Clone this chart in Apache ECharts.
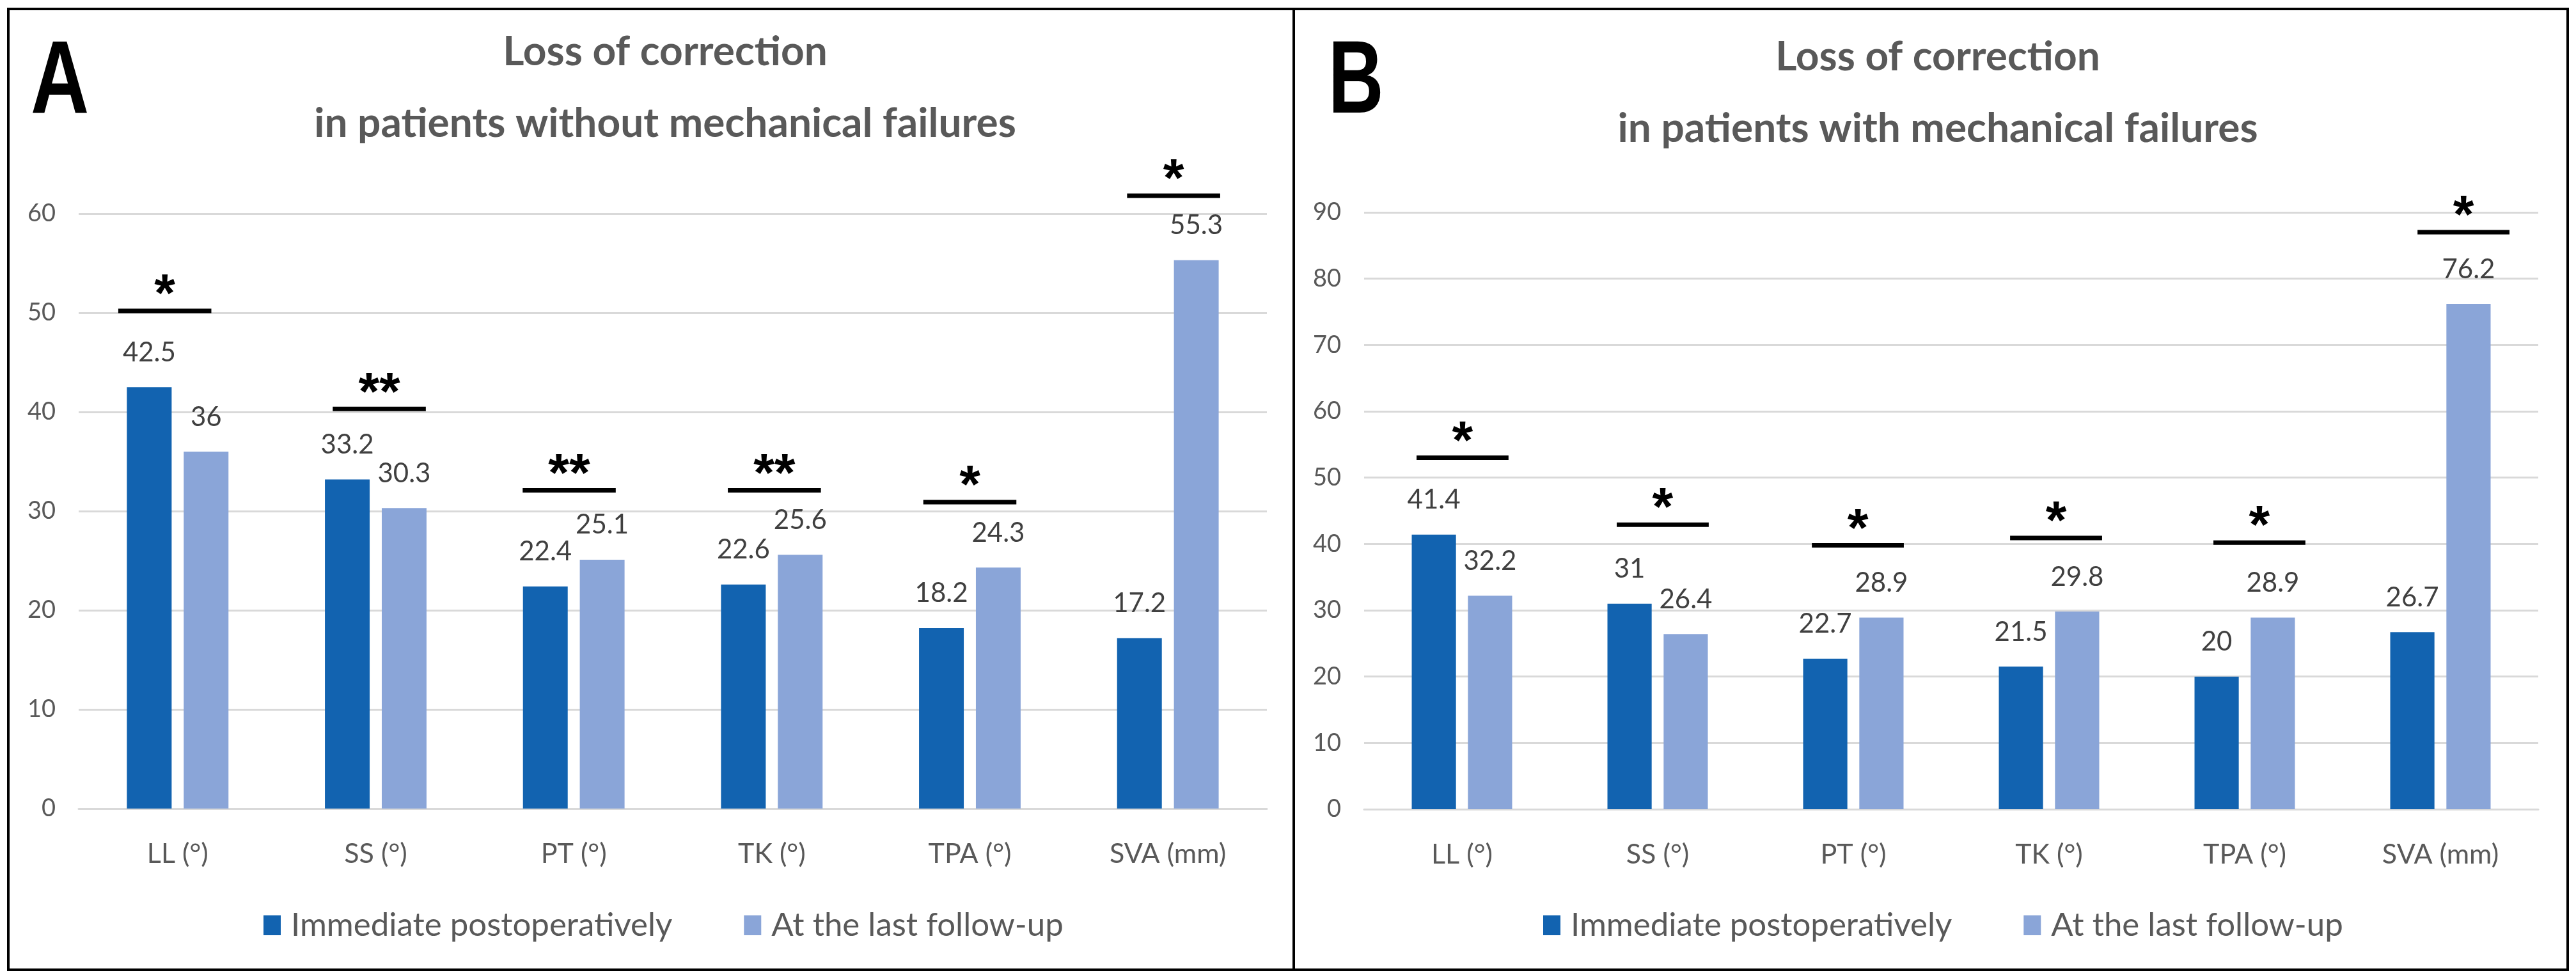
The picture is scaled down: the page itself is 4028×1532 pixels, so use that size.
<!DOCTYPE html>
<html><head><meta charset="utf-8">
<script src="https://cdn.jsdelivr.net/npm/echarts@6/dist/echarts.min.js"></script>
<style>html,body{margin:0;padding:0;background:#fff}#c{width:4028px;height:1532px}</style>
</head><body><div id="c"></div>
<script>
// ---------- data ----------
const categories = ['LL (°)', 'SS (°)', 'PT (°)', 'TK (°)', 'TPA (°)', 'SVA (mm)'];
const seriesNames = ['Immediate postoperatively', 'At the last follow-up'];
const immediateA = [42.5, 33.2, 22.4, 22.6, 18.2, 17.2];
const lastA = [36, 30.3, 25.1, 25.6, 24.3, 55.3];
const immediateB = [41.4, 31, 22.7, 21.5, 20, 26.7];
const lastB = [32.2, 26.4, 28.9, 29.8, 28.9, 76.2];
const sigLevelA = [50.2, 40.3, 32.1, 32.1, 30.9, 61.8];
const sigMarkA = ['*', '**', '**', '**', '*', '*'];
const sigLevelB = [53.0, 42.9, 39.8, 40.9, 40.2, 87.0];
const sigMarkB = ['*', '*', '*', '*', '*', '*'];
const titleA = 'Loss of correction\nin patients without mechanical failures';
const titleB = 'Loss of correction\nin patients with mechanical failures';
const yMaxA = 60, yMaxB = 90, yStep = 10;

// ---------- layout / style ----------
const sigShiftA = [-0.065, 0.018, -0.023, 0.013, 0, 0.029];
const sigShiftB = [0.003, 0.026, 0.023, 0.036, 0.075, 0.118];
const DARK = '#1263B0', LIGHT = '#8AA5D8', GRID = '#D9D9D9', TXT = '#595959';
const FONT = 'Lato';

function sigRender(marks, shifts) {
  return function (params, api) {
    const i = params.dataIndex;
    const p = api.coord([api.value(0), api.value(1)]);
    const cw = api.size([1, 0])[0];
    const cx = p[0] + shifts[i] * cw;
    const half = cw * 0.235;
    return {
      type: 'group',
      children: [
        { type: 'rect', shape: { x: cx - half, y: p[1] - 3.5, width: half * 2, height: 7 }, style: { fill: '#000' } },
        { type: 'text', x: cx, y: p[1] + 20,
          style: { text: marks[i], fill: '#000', font: 'bold 84px "Liberation Sans", Arial, sans-serif',
                   align: 'center', verticalAlign: 'bottom', textAlign: 'center', textVerticalAlign: 'bottom' } }
      ]
    };
  };
}

function barSeries(name, data, idx, color) {
  return {
    name: name, type: 'bar', xAxisIndex: idx, yAxisIndex: idx, data: data,
    barWidth: '22.6%', barGap: '27%', itemStyle: { color: color },
    label: { show: true, position: 'top', distance: 33, fontFamily: FONT, fontSize: 42, color: '#404040' }
  };
}

function xAx(idx) {
  return {
    gridIndex: idx, type: 'category', data: categories,
    axisTick: { show: false },
    axisLine: { lineStyle: { color: GRID, width: 3 } },
    axisLabel: { margin: 50, fontFamily: FONT, fontSize: 43, color: TXT }
  };
}
function yAx(idx, max) {
  return {
    gridIndex: idx, type: 'value', min: 0, max: max, interval: yStep,
    axisLine: { show: false }, axisTick: { show: false },
    splitLine: { lineStyle: { color: GRID, width: 3 } },
    axisLabel: { margin: 36, fontFamily: FONT, fontSize: 38, color: TXT }
  };
}
function legendAt(left) {
  return {
    data: seriesNames, left: left, top: 1416, itemWidth: 27, itemHeight: 31, itemGap: 112,
    icon: 'rect', selectedMode: false,
    textStyle: { fontFamily: FONT, fontSize: 51, color: TXT, padding: [0, 0, 0, 11] }
  };
}

const chart = echarts.init(document.getElementById('c'));
chart.setOption({
  animation: false,
  backgroundColor: '#fff',
  title: [
    { text: titleA, left: 1035, top: 20, textAlign: 'center',
      textStyle: { fontFamily: FONT, fontWeight: 'bold', fontSize: 64, lineHeight: 112, color: TXT } },
    { text: titleB, left: 3025, top: 28, textAlign: 'center',
      textStyle: { fontFamily: FONT, fontWeight: 'bold', fontSize: 64, lineHeight: 112, color: TXT } }
  ],
  legend: [legendAt(407), legendAt(2408)],
  grid: [
    { left: 123, right: 2047, top: 334, bottom: 268 },
    { left: 2133, right: 59, top: 332, bottom: 267 }
  ],
  xAxis: [xAx(0), xAx(1)],
  yAxis: [yAx(0, yMaxA), yAx(1, yMaxB)],
  series: [
    barSeries(seriesNames[0], immediateA, 0, DARK),
    barSeries(seriesNames[1], lastA, 0, LIGHT),
    barSeries(seriesNames[0], immediateB, 1, DARK),
    barSeries(seriesNames[1], lastB, 1, LIGHT),
    { type: 'custom', xAxisIndex: 0, yAxisIndex: 0, z: 5, renderItem: sigRender(sigMarkA, sigShiftA),
      data: sigLevelA.map((v, i) => [i, v]) },
    { type: 'custom', xAxisIndex: 1, yAxisIndex: 1, z: 5, renderItem: sigRender(sigMarkB, sigShiftB),
      data: sigLevelB.map((v, i) => [i, v]) }
  ],
  graphic: [
    { type: 'rect', z: 10, shape: { x: 13, y: 14, width: 2010, height: 1502 }, style: { fill: 'none', stroke: '#000', lineWidth: 4 } },
    { type: 'rect', z: 10, shape: { x: 2023, y: 14, width: 1992, height: 1502 }, style: { fill: 'none', stroke: '#000', lineWidth: 4 } },
    { type: 'text', z: 10, x: 48, y: 50, scaleX: 0.78,
      style: { text: 'A', font: 'bold 162px "Liberation Sans", Arial, sans-serif', fill: '#000', verticalAlign: 'top', textVerticalAlign: 'top' } },
    { type: 'text', z: 10, x: 2077, y: 50, scaleX: 0.74,
      style: { text: 'B', font: 'bold 162px "Liberation Sans", Arial, sans-serif', fill: '#000', verticalAlign: 'top', textVerticalAlign: 'top' } }
  ]
});
</script></body></html>
